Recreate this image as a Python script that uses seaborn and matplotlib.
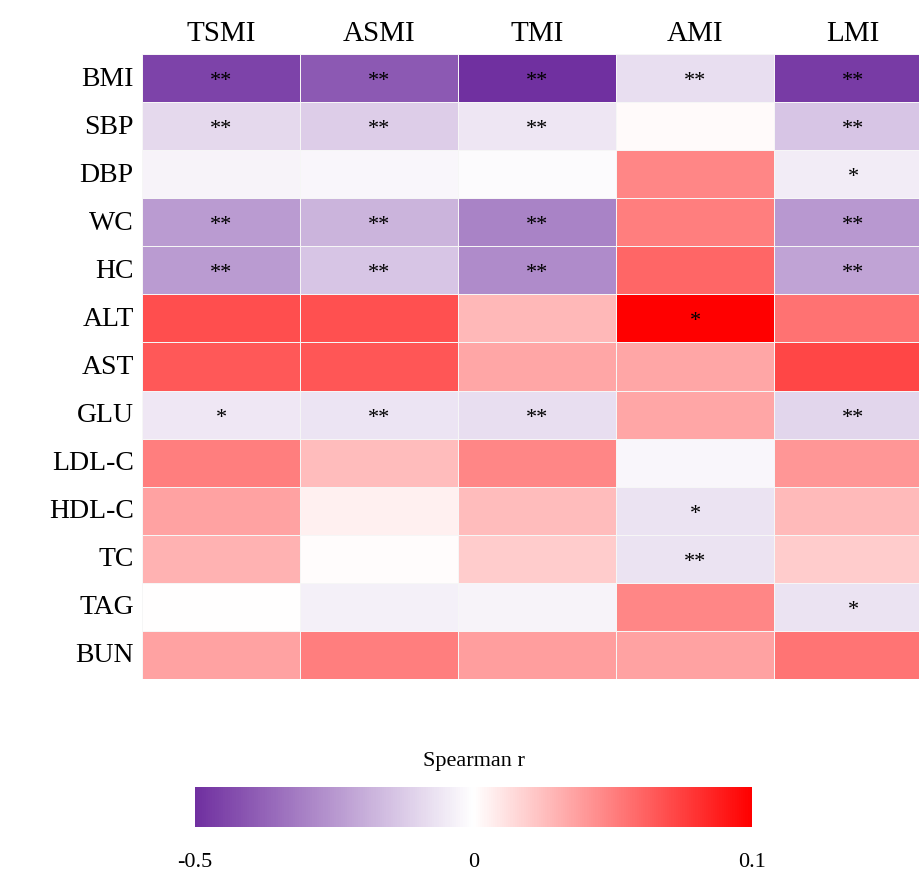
import numpy as np
import pandas as pd
import matplotlib
matplotlib.use("Agg")
import matplotlib.pyplot as plt
import seaborn as sns
from matplotlib.colors import LinearSegmentedColormap, TwoSlopeNorm

# muscle indices (columns) and clinical variables (rows)
cols = ["TSMI", "ASMI", "TMI", "AMI", "LMI"]
rows = ["BMI", "SBP", "DBP", "WC", "HC", "ALT", "AST", "GLU",
        "LDL-C", "HDL-C", "TC", "TAG", "BUN"]

# Spearman r
r_tsmi = [-0.45, -0.09, -0.03, -0.24, -0.24, 0.069, 0.065, -0.056, 0.050, 0.036, 0.030, 0.000, 0.036]
r_asmi = [-0.40, -0.12, -0.02, -0.18, -0.14, 0.068, 0.066, -0.065, 0.026, 0.006, 0.001, -0.038, 0.050]
r_tmi = [-0.50, -0.06, -0.01, -0.30, -0.28, 0.028, 0.035, -0.080, 0.047, 0.026, 0.020, -0.028, 0.038]
r_ami = [-0.08, 0.002, 0.047, 0.050, 0.060, 0.100, 0.035, 0.035, -0.020, -0.070, -0.070, 0.047, 0.036]
r_lmi = [-0.47, -0.14, -0.045, -0.25, -0.22, 0.055, 0.072, -0.100, 0.041, 0.027, 0.020, -0.070, 0.054]

# significance marks
sig_tsmi = ["**", "**", "", "**", "**", "", "", "*", "", "", "", "", ""]
sig_asmi = ["**", "**", "", "**", "**", "", "", "**", "", "", "", "", ""]
sig_tmi = ["**", "**", "", "**", "**", "", "", "**", "", "", "", "", ""]
sig_ami = ["**", "", "", "", "", "*", "", "", "", "*", "**", "", ""]
sig_lmi = ["**", "**", "*", "**", "**", "", "", "**", "", "", "", "*", ""]

cbar_ticks = [-0.5, 0, 0.1]
cbar_ticklabels = ["-0.5", "0", "0.1"]

df = pd.DataFrame(np.column_stack([r_tsmi, r_asmi, r_tmi, r_ami, r_lmi]),
                  index=rows, columns=cols)
annot = np.column_stack([sig_tsmi, sig_asmi, sig_tmi, sig_ami, sig_lmi])

cmap = LinearSegmentedColormap.from_list("pw_r", ["#7030A0", "#FFFFFF", "#FF0000"])
norm = TwoSlopeNorm(vmin=-0.5, vcenter=0, vmax=0.1)

plt.rcParams["font.family"] = ["Liberation Serif", "DejaVu Serif"]

fig = plt.figure(figsize=(9.2, 8.78), dpi=100)
ax = fig.add_axes([142 / 920, 1 - 680 / 878, 790 / 920, 625 / 878])
cax = fig.add_axes([195 / 920, 1 - 828 / 878, 557 / 920, 40 / 878])

sns.heatmap(df, ax=ax, cbar_ax=cax, cmap=cmap, norm=norm,
            annot=annot, fmt="",
            annot_kws={"color": "black", "fontsize": 16, "va": "center_baseline"},
            linewidths=0.4, linecolor="#f6f6f6",
            cbar_kws={"orientation": "horizontal"})

ax.xaxis.tick_top()
ax.set_xlabel("")
ax.set_ylabel("")
ax.tick_params(axis="both", length=0, pad=6)
ax.set_xticklabels(cols, fontsize=21)
ax.set_yticklabels(rows, fontsize=20, rotation=0)

cb = ax.collections[0].colorbar
cb.set_ticks(cbar_ticks)
cb.set_ticklabels(cbar_ticklabels)
cb.outline.set_visible(False)
cax.tick_params(length=0, labelsize=16, pad=18)
cax.set_title("Spearman r", fontsize=16, pad=16)

fig.savefig("out.png", dpi=100)
